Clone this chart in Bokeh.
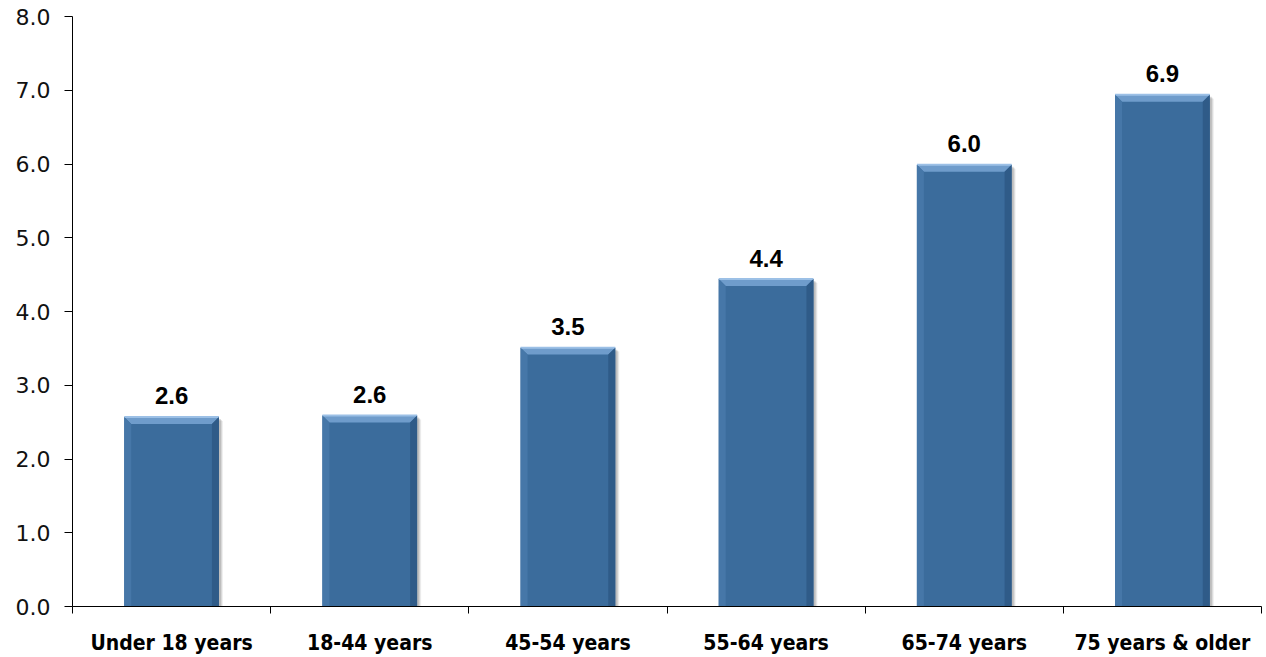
from bokeh.plotting import figure
from bokeh.models import FixedTicker, ColumnDataSource, Range1d
from bokeh.embed import file_html
from bokeh.resources import INLINE
from bokeh.core.properties import value

categories = ["Under 18 years", "18-44 years", "45-54 years", "55-64 years", "65-74 years", "75 years & older"]
rates = [2.57, 2.59, 3.51, 4.44, 5.99, 6.94]
y_ticks = [0, 1, 2, 3, 4, 5, 6, 7, 8]

W, H = 1266, 657
LEFT, RIGHT, TOP, BOTTOM = 72, 5, 16, 49
frame_w = W - LEFT - RIGHT
frame_h = H - TOP - BOTTOM
n = len(categories)
px_x = n / frame_w       # data units per pixel along x
px_y = 8.0 / frame_h     # data units per pixel along y

p = figure(width=W, height=H, output_backend="svg", toolbar_location=None,
           x_range=Range1d(0, n), y_range=Range1d(0, 8),
           min_border_left=LEFT, min_border_right=RIGHT,
           min_border_top=TOP, min_border_bottom=BOTTOM)
p.outline_line_color = None
p.xgrid.grid_line_color = None
p.ygrid.grid_line_color = None
p.background_fill_color = "white"
p.border_fill_color = "white"

centers = [i + 0.5 for i in range(n)]
bar_w = 0.478
bx = 7 * px_x
by = 7 * px_y

# soft drop shadow
for k, a in [(4, 0.12), (3, 0.18), (2, 0.25)]:
    p.quad(left=[c - bar_w / 2 + k * px_x for c in centers],
           right=[c + bar_w / 2 + k * px_x for c in centers],
           bottom=[0] * n, top=[v - k * px_y for v in rates],
           fill_color="#707070", fill_alpha=a, line_color=None)

# main bar body
p.quad(left=[c - bar_w / 2 for c in centers], right=[c + bar_w / 2 for c in centers],
       bottom=[0] * n, top=rates, fill_color="#3B6C9C", line_color=None)

# bevelled edges
tops_x, tops_y, lefts_x, lefts_y, rights_x, rights_y = [], [], [], [], [], []
for c, v in zip(centers, rates):
    x0, x1 = c - bar_w / 2, c + bar_w / 2
    tops_x.append([x0, x1, x1 - bx, x0 + bx])
    tops_y.append([v, v, v - by, v - by])
    lefts_x.append([x0, x0 + bx, x0 + bx, x0])
    lefts_y.append([v, v - by, 0, 0])
    rights_x.append([x1, x1 - bx, x1 - bx, x1])
    rights_y.append([v, v - by, 0, 0])
p.patches(tops_x, tops_y, fill_color="#6F9CCB", line_color=None)
# thin highlight along the top rim
p.segment(x0=[c - bar_w / 2 for c in centers], x1=[c + bar_w / 2 for c in centers],
          y0=rates, y1=rates, line_color="#9CC0E6", line_width=2)
p.patches(lefts_x, lefts_y, fill_color="#4677A8", line_color=None)
p.patches(rights_x, rights_y, fill_color="#2F5B88", line_color=None)

# value labels
src = ColumnDataSource(dict(x=centers, y=rates, t=[f"{v:.1f}" for v in rates]))
p.text(x="x", y="y", text="t", source=src, text_align="center", text_baseline="alphabetic",
       y_offset=-21, text_font=value("Liberation Sans"), text_font_style="bold",
       text_font_size="24px", text_color="black")

# axes
p.yaxis.ticker = FixedTicker(ticks=y_ticks)
p.yaxis.major_label_overrides = {t: f"{t:.1f}" for t in y_ticks}
p.yaxis.major_tick_out = 8
p.yaxis.major_tick_in = 0
p.yaxis.minor_tick_line_color = None
p.yaxis.major_label_text_font = "DejaVu Sans"
p.yaxis.major_label_text_font_size = "22px"
p.yaxis.major_label_text_color = "#111111"
p.yaxis.axis_line_color = "black"
p.yaxis.major_tick_line_color = "black"
p.yaxis.major_label_standoff = 14

p.xaxis.ticker = FixedTicker(ticks=centers, minor_ticks=list(range(n + 1)))
p.xaxis.major_label_overrides = {c: cat for c, cat in zip(centers, categories)}
p.xaxis.major_tick_line_color = None
p.xaxis.major_tick_out = 0
p.xaxis.major_tick_in = 0
p.xaxis.minor_tick_out = 7
p.xaxis.minor_tick_in = 0
p.xaxis.minor_tick_line_color = "black"
p.xaxis.axis_line_color = "black"
p.xaxis.major_label_text_font = "DejaVu Sans Condensed"
p.xaxis.major_label_text_font_style = "bold"
p.xaxis.major_label_text_font_size = "21px"
p.xaxis.major_label_text_color = "black"
p.xaxis.major_label_standoff = 17

open("out.html", "w").write(file_html(p, INLINE))
